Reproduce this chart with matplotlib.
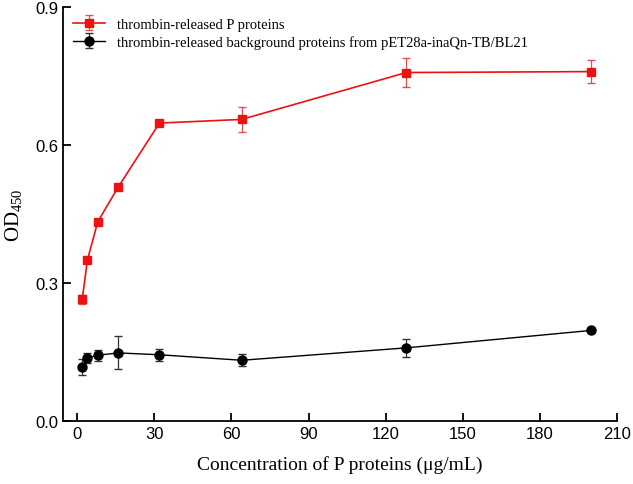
import matplotlib
matplotlib.use("Agg")
import matplotlib.pyplot as plt

plt.rcParams['mathtext.fontset'] = 'custom'
plt.rcParams['mathtext.rm'] = 'Liberation Serif'
plt.rcParams['mathtext.it'] = 'Liberation Serif'

conc = [2, 4, 8, 16, 32, 64, 128, 200]
p_od = [0.265, 0.350, 0.433, 0.509, 0.648, 0.656, 0.758, 0.760]
p_err = [0.010, 0.006, 0.005, 0.005, 0.004, 0.028, 0.032, 0.025]
bg_od = [0.117, 0.137, 0.143, 0.148, 0.144, 0.132, 0.159, 0.197]
bg_err = [0.017, 0.011, 0.012, 0.036, 0.013, 0.013, 0.020, 0.003]
xticks = [0, 30, 60, 90, 120, 150, 180, 210]
yticks = [0.0, 0.3, 0.6, 0.9]

fig = plt.figure(figsize=(6.33, 4.85), dpi=100)
ax = fig.add_axes([0.0995, 0.13, 0.8755, 0.853])

ax.errorbar(conc, p_od, yerr=p_err, color='#ee1111', marker='s', markersize=6,
            lw=1.2, capsize=3, elinewidth=0.9, ecolor='#e05050',
            label='thrombin-released P proteins', zorder=3)
ax.errorbar(conc, bg_od, yerr=bg_err, color='black', marker='o', markersize=6.5,
            lw=1.0, capsize=3, elinewidth=0.9, ecolor='#333333',
            label='thrombin-released background proteins from pET28a-inaQn-TB/BL21', zorder=3)

ax.set_xlim(-5.5, 210)
ax.set_ylim(0, 0.9)
ax.set_xticks(xticks)
ax.set_yticks(yticks)
ax.set_yticklabels([f"{v:.1f}" for v in yticks])
for s in ['top', 'right']:
    ax.spines[s].set_visible(False)
for s in ['left', 'bottom']:
    ax.spines[s].set_linewidth(1.3)
ax.tick_params(direction='in', length=6, width=1.3, labelsize=12)
for lab in ax.get_xticklabels() + ax.get_yticklabels():
    lab.set_fontfamily('Liberation Sans')

ax.set_xlabel('Concentration of P proteins (μg/mL)', fontfamily='Liberation Serif', fontsize=14, labelpad=10)
ax.set_ylabel(r'$\mathrm{OD}_{\mathrm{450}}$', fontsize=15, labelpad=8)

leg = ax.legend(loc='upper left', frameon=False, prop={'family': 'Liberation Serif', 'size': 10.5},
                handlelength=2.2, borderaxespad=0.3, labelspacing=0.3, bbox_to_anchor=(0.0, 1.0))

fig.savefig('out.png', dpi=100)
